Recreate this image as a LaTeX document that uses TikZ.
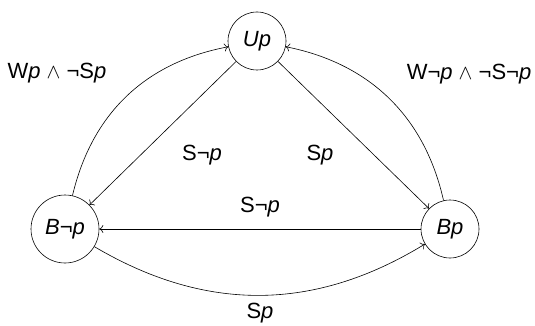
\documentclass[tikz,border=0pt]{standalone}
\usepackage{fontspec}
\setmainfont{Liberation Sans}
\usetikzlibrary{arrows.meta,positioning}
\tikzset{
  world/.style={draw,circle,line width=0.6pt,inner sep=0pt,minimum size=58pt,
    font=\fontsize{22}{25}\selectfont\itshape},
  lbl/.style={font=\fontsize{22}{25}\selectfont,anchor=base,inner sep=0pt},
  trans/.style={-{To[length=4pt,width=8pt]},line width=0.6pt},
}

\begin{document}
\begin{tikzpicture}[x=1pt,y=-1pt]
  \useasboundingbox (0,0) rectangle (535,326);

  % worlds
  \node[world] (up) at (257,41) {Up};
  \node[world,minimum size=68pt] (bnp) at (65,229) {B¬p};
  \node[world] (bp) at (450,229) {Bp};

  % straight transitions
  \draw[trans] (up) -- (bnp);
  \draw[trans] (up) -- (bp);
  \draw[trans] (bp) -- (bnp);

  % curved transitions
  \draw[trans] (bnp) to[bend left=33] (up);
  \draw[trans] (bp) to[bend right=33] (up);
  \draw[trans] (bnp) to[bend right=31] (bp);

  % labels
  \node[lbl] (lwp) at (57,79) {W\textit{p} $\wedge$ ¬S\textit{p}};
  \node[lbl] (lwnp) at (469,80) {W¬\textit{p} $\wedge$ ¬S¬\textit{p}};
  \node[lbl] (lsnp) at (202,160) {S¬\textit{p}};
  \node[lbl] (lsp) at (320,160) {S\textit{p}};
  \node[lbl] (lsnpb) at (260,212) {S¬\textit{p}};
  \node[lbl] (lspb) at (260,318) {S\textit{p}};
\end{tikzpicture}
\end{document}
